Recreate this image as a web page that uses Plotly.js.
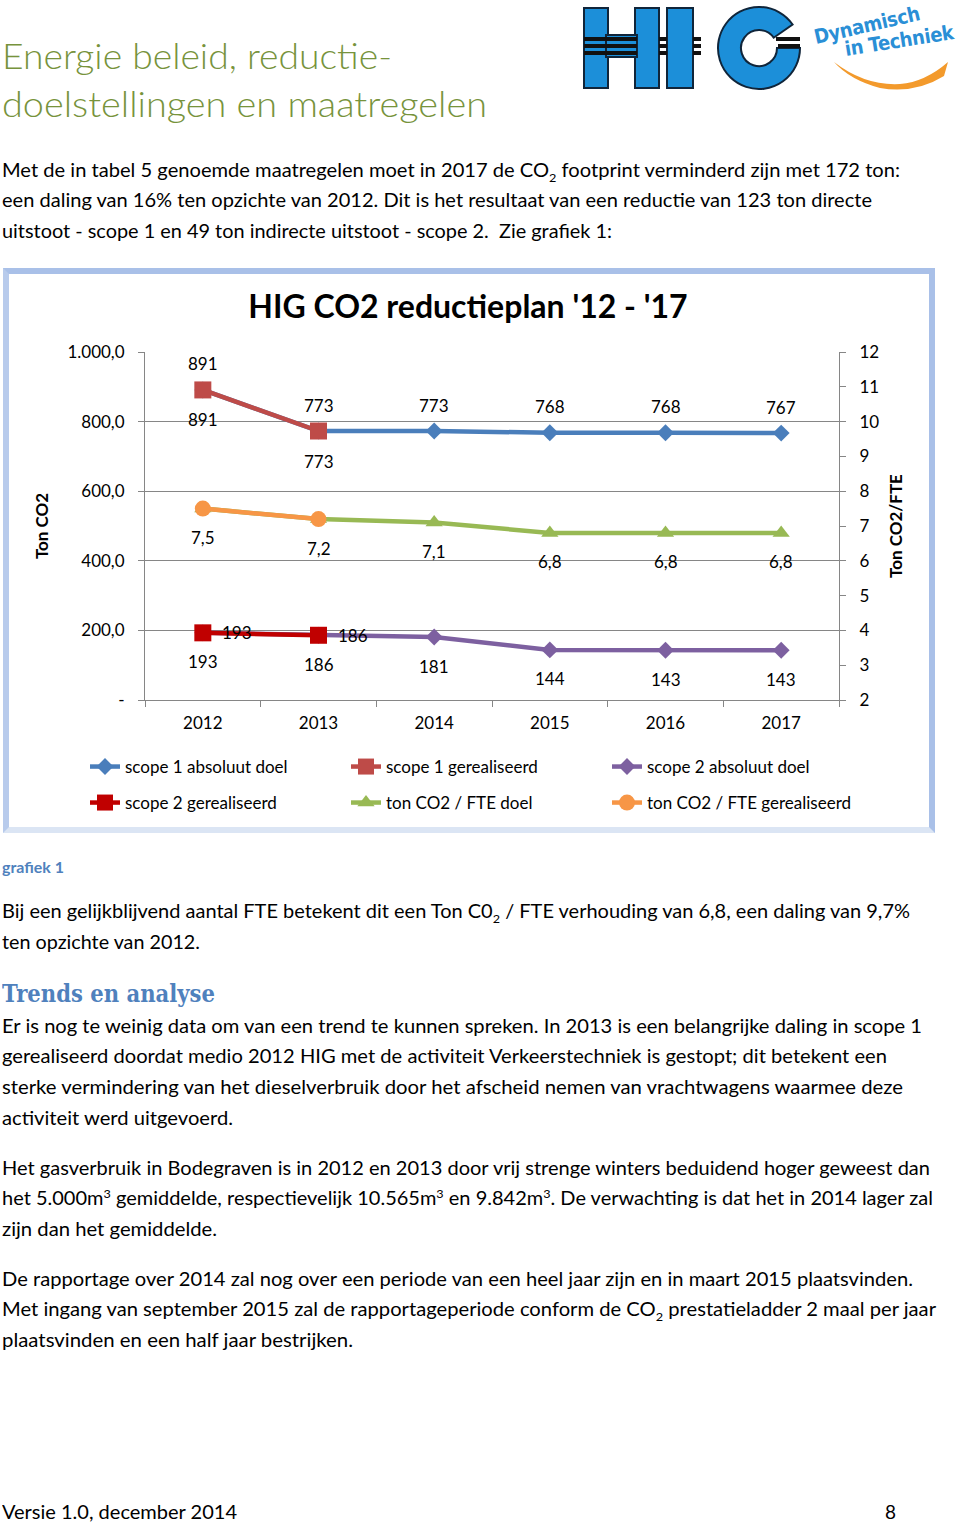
<!DOCTYPE html>
<html>
<head>
<meta charset="utf-8">
<script src="https://cdn.plot.ly/plotly-3.0.1.min.js"></script>
<style>
  html, body { margin:0; padding:0; background:#fff; }
  #page { position:relative; width:960px; height:1524px; overflow:hidden; background:#fff; font-family: Lato, "Open Sans", sans-serif; color:#000; }
  .ln { position:absolute; left:2px; white-space:nowrap; font-size:19px; line-height:24px; height:24px; transform-origin:0 50%; }
  .ln sub, .ln sup { font-size:12px; line-height:0; }
  .head { font-size:36px; line-height:44px; height:44px; color:#77933c; font-weight:300; }
  .cap { font-size:15px; line-height:20px; height:20px; color:#4f81bd; font-weight:700; }
  .h2 { font-family:"DejaVu Serif","Liberation Serif",serif; font-weight:700; font-size:25px; line-height:30px; height:30px; color:#4f81bd; }
  #box { position:absolute; left:3px; top:268px; width:920px; height:553px; border:6px solid #a9c0e8; border-bottom-color:#dbe5f4; border-left-color:#b8cbec; background:#fff; }
  #chart { position:absolute; left:0; top:268px; width:940px; height:566px; }
  #logo { position:absolute; left:570px; top:0; }
</style>
</head>
<body>
<div id="page">
  <svg id="logo" width="390" height="100" viewBox="570 0 390 100">
    <g fill="#1c8fd9" stroke="#10253a" stroke-width="2">
      <rect x="584" y="8" width="24" height="80"/>
      <rect x="635" y="8" width="24" height="80"/>
      <rect x="606" y="35" width="31" height="22"/>
      <rect x="667" y="8" width="26" height="80"/>
      <path d="M792.6,24.5 A41,41 0 1 0 800,48 L777,48 A18,18 0 1 1 773.7,37.7 Z"/>
    </g>
    <g fill="#111">
      <rect x="584" y="37" width="53" height="4"/><rect x="584" y="44" width="53" height="4"/><rect x="584" y="51" width="53" height="4"/>
      <rect x="659" y="37" width="8" height="4"/><rect x="659" y="44" width="8" height="4"/><rect x="659" y="51" width="8" height="4"/>
      <rect x="693" y="37" width="8" height="4"/><rect x="693" y="44" width="8" height="4"/><rect x="693" y="51" width="8" height="4"/>
      <rect x="776" y="37" width="24" height="4"/><rect x="778" y="44" width="22" height="4"/>
    </g>
    <text x="816" y="44" transform="rotate(-13 816 44)" font-family="DejaVu Sans Condensed, DejaVu Sans, sans-serif" font-weight="700" font-size="20" fill="#2a8fd6" textLength="108">Dynamisch</text>
    <text x="846" y="56" transform="rotate(-9 846 56)" font-family="DejaVu Sans Condensed, DejaVu Sans, sans-serif" font-weight="700" font-size="20" fill="#2a8fd6" textLength="110">in Techniek</text>
    <path d="M834,62 Q865,86 900,84 Q925,82 948,62 L944,76 Q915,94 880,88 Q850,80 834,62 Z" fill="#f39a2c"/>
  </svg>

  <div class="ln head" style="top:33px" data-w="390">Energie beleid, reductie-</div>
  <div class="ln head" style="top:81px" data-w="485">doelstellingen en maatregelen</div>

  <div class="ln" style="top:158px" data-w="898">Met de in tabel 5 genoemde maatregelen moet in 2017 de CO<sub>2</sub> footprint verminderd zijn met 172 ton:</div>
  <div class="ln" style="top:188px" data-w="870">een daling van 16% ten opzichte van 2012. Dit is het resultaat van een reductie van 123 ton directe</div>
  <div class="ln" style="top:219px" data-w="610">uitstoot - scope 1 en 49 ton indirecte uitstoot - scope 2.&nbsp; Zie grafiek 1:</div>

  <div id="box"></div>
  <div id="chart"></div>

  <div class="ln cap" style="top:857px" data-w="62">grafiek 1</div>
  <div class="ln" style="top:899px" data-w="908">Bij een gelijkblijvend aantal FTE betekent dit een Ton C0<sub>2</sub> / FTE verhouding van 6,8, een daling van 9,7%</div>
  <div class="ln" style="top:930px" data-w="198">ten opzichte van 2012.</div>

  <div class="ln h2" style="top:979px" data-w="213">Trends en analyse</div>
  <div class="ln" style="top:1014px" data-w="920">Er is nog te weinig data om van een trend te kunnen spreken. In 2013 is een belangrijke daling in scope 1</div>
  <div class="ln" style="top:1044px" data-w="885">gerealiseerd doordat medio 2012 HIG met de activiteit Verkeerstechniek is gestopt; dit betekent een</div>
  <div class="ln" style="top:1075px" data-w="901">sterke vermindering van het dieselverbruik door het afscheid nemen van vrachtwagens waarmee deze</div>
  <div class="ln" style="top:1106px" data-w="231">activiteit werd uitgevoerd.</div>

  <div class="ln" style="top:1156px" data-w="928">Het gasverbruik in Bodegraven is in 2012 en 2013 door vrij strenge winters beduidend hoger geweest dan</div>
  <div class="ln" style="top:1186px" data-w="931">het 5.000m<sup>3</sup> gemiddelde, respectievelijk 10.565m<sup>3</sup> en 9.842m<sup>3</sup>. De verwachting is dat het in 2014 lager zal</div>
  <div class="ln" style="top:1217px" data-w="215">zijn dan het gemiddelde.</div>

  <div class="ln" style="top:1267px" data-w="911">De rapportage over 2014 zal nog over een periode van een heel jaar zijn en in maart 2015 plaatsvinden.</div>
  <div class="ln" style="top:1297px" data-w="934">Met ingang van september 2015 zal de rapportageperiode conform de CO<sub>2</sub> prestatieladder 2 maal per jaar</div>
  <div class="ln" style="top:1328px" data-w="351">plaatsvinden en een half jaar bestrijken.</div>

  <div class="ln" style="top:1500px" data-w="235">Versie 1.0, december 2014</div>
  <div class="ln" style="top:1500px; left:885px">8</div>
</div>

<script>
// ---- data ----
const years = ['2012', '2013', '2014', '2015', '2016', '2017'];
const scope1Doel = [891, 773, 773, 768, 768, 767];
const scope1Gerealiseerd = [891, 773, null, null, null, null];
const scope2Doel = [193, 186, 181, 144, 143, 143];
const scope2Gerealiseerd = [193, 186, null, null, null, null];
const fteDoel = [7.5, 7.2, 7.1, 6.8, 6.8, 6.8];
const fteGerealiseerd = [7.5, 7.2, null, null, null, null];
const seriesNames = ['scope 1 absoluut doel', 'scope 1 gerealiseerd', 'scope 2 absoluut doel',
                     'scope 2 gerealiseerd', 'ton CO2 / FTE doel', 'ton CO2 / FTE gerealiseerd'];
const leftTickVals = [0, 200, 400, 600, 800, 1000];
const leftTickText = ['-', '200,0', '400,0', '600,0', '800,0', '1.000,0'];
const rightTickVals = [2, 3, 4, 5, 6, 7, 8, 9, 10, 11, 12];

// ---- fit text lines to their widths ----
document.querySelectorAll('.ln[data-w]').forEach(el => {
  const w = el.getBoundingClientRect().width;
  const t = parseFloat(el.dataset.w);
  if (w > 0) el.style.transform = 'scaleX(' + (t / w) + ')';
});

const FONT = 'Lato, Open Sans, sans-serif';
const fmt = v => String(v).replace('.', ',');

function line(name, y, color, symbol, size, yaxis, legend) {
  return {
    type: 'scatter', mode: 'lines+markers', name: name, x: years, y: y,
    yaxis: yaxis, legend: legend, showlegend: true, connectgaps: false,
    line: { color: color, width: 4.5 },
    marker: { color: color, symbol: symbol, size: size, line: { width: 0 } },
    hoverinfo: 'skip'
  };
}

const traces = [
  line(seriesNames[0], scope1Doel, '#4a7ebb', 'diamond', 13, 'y', 'legend'),
  line(seriesNames[1], scope1Gerealiseerd, '#be4b48', 'square', 17, 'y', 'legend'),
  line(seriesNames[2], scope2Doel, '#7d60a0', 'diamond', 13, 'y', 'legend'),
  line(seriesNames[3], scope2Gerealiseerd, '#c00000', 'square', 17, 'y', 'legend2'),
  line(seriesNames[4], fteDoel, '#98b954', 'triangle-up', 15, 'y2', 'legend2'),
  line(seriesNames[5], fteGerealiseerd, '#f79646', 'circle', 16, 'y2', 'legend2')
];

// data labels: x given as the category index of each year
const annotations = [];
function addLabels(vals, yref, xshift, yshift) {
  vals.forEach(function (v, i) {
    if (v === null) return;
    annotations.push({
      x: i, y: v, xref: 'x', yref: yref, text: fmt(v), showarrow: false,
      xshift: xshift, yshift: yshift,
      font: { family: FONT, size: 17, color: '#000' }
    });
  });
}
addLabels(scope1Doel, 'y', 0, 26);
addLabels(scope1Gerealiseerd, 'y', 0, -30);
addLabels(scope2Doel, 'y', 0, -29);
addLabels(scope2Gerealiseerd, 'y', 34, 0);
addLabels(fteDoel, 'y2', 0, -29);

const W = 940, H = 566;
const ML = 145, MR = 101, MT = 84, MB = 134;
const PW = W - ML - MR, PH = H - MT - MB;
const axisCol = '#868686';
const legX = (85 - ML) / PW;
const legY1 = 1 - (499 - MT) / PH;
const legY2 = 1 - (535 - MT) / PH;

const legendBase = {
  orientation: 'h', xref: 'paper', yref: 'paper', x: legX, xanchor: 'left', yanchor: 'middle',
  entrywidth: 216, entrywidthmode: 'pixels', bgcolor: 'rgba(0,0,0,0)', borderwidth: 0,
  font: { family: FONT, size: 17, color: '#000' }
};

const layout = {
  width: W, height: H,
  margin: { l: ML, r: MR, t: MT, b: MB },
  paper_bgcolor: 'rgba(0,0,0,0)', plot_bgcolor: 'rgba(0,0,0,0)',
  font: { family: FONT, size: 17, color: '#000' },
  showlegend: true,
  title: {
    text: "<b>HIG CO2 reductieplan '12 - '17</b>",
    font: { family: FONT, size: 32, color: '#000' },
    xref: 'container', yref: 'container', x: 468 / W, y: 1 - 39 / H,
    xanchor: 'center', yanchor: 'middle'
  },
  xaxis: {
    type: 'category', range: [-0.5, 5.5], tickson: 'boundaries',
    showline: true, linecolor: axisCol, linewidth: 1,
    ticks: 'outside', ticklen: 6, tickcolor: axisCol, ticklabelstandoff: 8,
    showgrid: false, zeroline: false,
    tickfont: { family: FONT, size: 17, color: '#000' }
  },
  yaxis: {
    range: [0, 1000], tickvals: leftTickVals, ticktext: leftTickText,
    showline: true, linecolor: axisCol, linewidth: 1,
    ticks: 'outside', ticklen: 6, tickcolor: axisCol, ticklabelstandoff: 10,
    showgrid: true, gridcolor: axisCol, gridwidth: 1, zeroline: false,
    tickfont: { family: FONT, size: 17, color: '#000' },
    title: { text: '<b>Ton CO2</b>', font: { family: FONT, size: 17, color: '#000' }, standoff: 14 }
  },
  yaxis2: {
    overlaying: 'y', side: 'right', range: [2, 12], tickvals: rightTickVals,
    showline: true, linecolor: axisCol, linewidth: 1,
    ticks: 'outside', ticklen: 6, tickcolor: axisCol, ticklabelstandoff: 10,
    showgrid: false, zeroline: false,
    tickfont: { family: FONT, size: 17, color: '#000' },
    title: { text: '<b>Ton CO2/FTE</b>', font: { family: FONT, size: 17, color: '#000' }, standoff: 11 }
  },
  legend: Object.assign({}, legendBase, { y: legY1 }),
  legend2: Object.assign({}, legendBase, { y: legY2 }),
  annotations: annotations
};

Plotly.newPlot('chart', traces, layout, { displayModeBar: false, staticPlot: true });
</script>
</body>
</html>
